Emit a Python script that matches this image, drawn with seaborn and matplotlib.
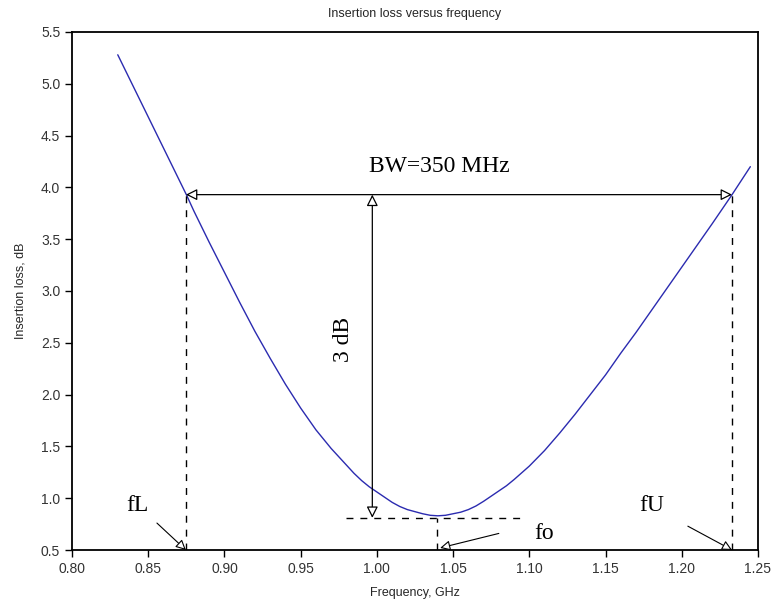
"""
Insertion loss versus frequency - Nachbau des Scilab-Plots.
"""

import matplotlib
matplotlib.use("Agg")
import matplotlib.pyplot as plt
import seaborn as sns
import pandas as pd

sns.set_theme(style="ticks")
plt.rcParams["font.family"] = ["Liberation Sans", "DejaVu Sans"]

# Messkurve
freq_ghz = [0.830, 0.840, 0.850, 0.860, 0.870, 0.875, 0.880, 0.890, 0.900, 0.910,
            0.920, 0.930, 0.940, 0.950, 0.960, 0.970, 0.980, 0.985, 0.990, 0.995,
            1.000, 1.005, 1.010, 1.015, 1.020, 1.025, 1.030, 1.035, 1.040, 1.045,
            1.050, 1.055, 1.060, 1.065, 1.070, 1.075, 1.080, 1.085, 1.090, 1.100,
            1.110, 1.120, 1.130, 1.140, 1.150, 1.160, 1.170, 1.180, 1.190, 1.200,
            1.210, 1.220, 1.233, 1.245]
loss_db = [5.28, 4.98, 4.68, 4.38, 4.08, 3.93, 3.77, 3.47, 3.18, 2.89,
           2.61, 2.35, 2.10, 1.87, 1.66, 1.48, 1.32, 1.24, 1.17, 1.11,
           1.06, 1.01, 0.96, 0.92, 0.89, 0.87, 0.85, 0.835, 0.83, 0.835,
           0.85, 0.865, 0.89, 0.925, 0.97, 1.02, 1.07, 1.12, 1.18, 1.31,
           1.46, 1.63, 1.81, 2.00, 2.19, 2.40, 2.60, 2.81, 3.02, 3.23,
           3.44, 3.65, 3.93, 4.20]

# Kennwerte für die Annotationen
f_low, f_up, f_0 = 0.8747, 1.233, 1.0395
loss_3db, loss_min = 3.93, 0.81
x_ticks = [0.80, 0.85, 0.90, 0.95, 1.00, 1.05, 1.10, 1.15, 1.20, 1.25]
y_ticks = [0.5, 1.0, 1.5, 2.0, 2.5, 3.0, 3.5, 4.0, 4.5, 5.0, 5.5]

df = pd.DataFrame({"freq": freq_ghz, "loss": loss_db})

fig = plt.figure(figsize=(7.77, 6.07), dpi=100)
ax = fig.add_axes([0.0927, 0.0939, 0.8828, 0.8534])

sns.lineplot(data=df, x="freq", y="loss", ax=ax, color="#2b2bb0", linewidth=1.0)

dash = dict(color="black", linestyle=(0, (5, 5)), linewidth=1.0)
ax.plot([f_low, f_low], [0.5, loss_3db], **dash)
ax.plot([f_up, f_up], [0.5, loss_3db], **dash)
ax.plot([0.98, 1.0955], [loss_min, loss_min], **dash)
ax.plot([f_0, f_0], [0.5, loss_min], **dash)

arrow = dict(arrowstyle="<|-|>", fc="white", ec="black", lw=0.9, mutation_scale=17,
             shrinkA=0, shrinkB=0)
ax.annotate("", xy=(f_low, loss_3db), xytext=(f_up, loss_3db), arrowprops=arrow)
ax.annotate("", xy=(0.997, loss_3db), xytext=(0.997, loss_min), arrowprops=arrow)

single = dict(arrowstyle="-|>", fc="white", ec="black", lw=0.8, mutation_scale=15,
              shrinkA=0, shrinkB=0)
ax.annotate("", xy=(f_low, 0.5), xytext=(0.8557, 0.76), arrowprops=single)
ax.annotate("", xy=(f_up, 0.5), xytext=(1.204, 0.73), arrowprops=single)
ax.annotate("", xy=(f_0 + 0.002, 0.52), xytext=(1.080, 0.66), arrowprops=single)

serif = dict(family="Liberation Serif", fontsize=17, color="black")
ax.text(1.041, 4.10, "BW=350 MHz", ha="center", va="bottom", **serif)
ax.text(0.978, 2.53, "3 dB", ha="center", va="center", rotation=90, **serif)
ax.text(0.8426, 0.93, "fL", ha="center", va="center", **serif)
ax.text(1.180, 0.93, "fU", ha="center", va="center", **serif)
ax.text(1.110, 0.66, "fo", ha="center", va="center", **serif)

ax.set_xlim(0.80, 1.25)
ax.set_ylim(0.5, 5.5)
ax.set_xticks(x_ticks)
ax.set_yticks(y_ticks)
ax.set_xticklabels([f"{t:.2f}" for t in x_ticks])
ax.set_yticklabels([f"{t:.1f}" for t in y_ticks])
ax.tick_params(direction="out", length=5, width=1.0, labelsize=10, colors="black",
               labelcolor="#333333")
for s in ax.spines.values():
    s.set_visible(True)
    s.set_linewidth(1.3)
    s.set_color("black")

ax.set_title("Insertion loss versus frequency", fontsize=9, pad=11)
ax.set_xlabel("Frequency, GHz", fontsize=9, labelpad=8)
ax.set_ylabel("Insertion loss, dB", fontsize=9, labelpad=10)

fig.savefig("out.png", dpi=100)
plt.close(fig)
